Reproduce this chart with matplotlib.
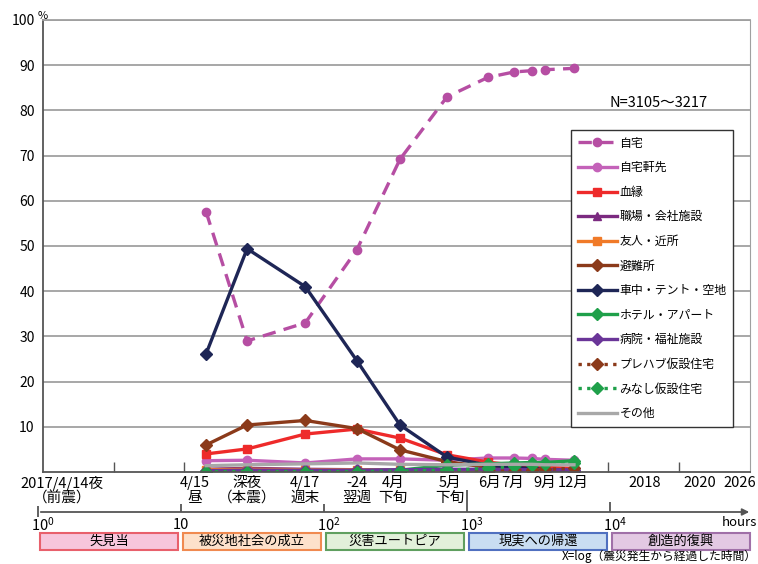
import numpy as np
import matplotlib.pyplot as plt
from matplotlib.patches import Rectangle

plt.rcParams['font.family'] = ['Noto Sans CJK JP', 'DejaVu Sans']

# hours since the foreshock for each survey point
hours = [15, 29, 74, 170, 340, 725, 1400, 2130, 2850, 3500, 5600]

jitaku = [57.5, 29, 33, 49.2, 69.2, 83, 87.3, 88.5, 88.8, 89.0, 89.3]
nokisaki = [2.5, 2.6, 2.0, 2.9, 2.9, 2.6, 3.1, 3.1, 3.0, 2.8, 2.6]
ketsuen = [4.0, 5.1, 8.4, 9.5, 7.5, 3.8, 2.2, 1.5, 1.2, 1.0, 0.8]
shokuba = [0.6, 0.8, 0.6, 0.5, 0.4, 0.3, 0.3, 0.2, 0.2, 0.2, 0.2]
yujin = [0.5, 0.6, 0.5, 0.5, 0.4, 0.3, 0.2, 0.2, 0.2, 0.1, 0.1]
hinanjo = [6.0, 10.4, 11.4, 9.6, 4.9, 2.3, 1.0, 0.5, 0.5, 0.3, 0.3]
shachu = [26.2, 49.4, 41.0, 24.6, 10.4, 3.3, 1.5, 1.0, 0.8, 0.5, 0.3]
hotel = [0.2, 0.2, 0.2, 0.3, 0.4, 1.5, 1.8, 2.0, 2.1, 2.1, 2.5]
byoin = [0.3, 0.4, 0.4, 0.4, 0.5, 0.6, 0.6, 0.5, 0.5, 0.5, 0.5]
prefab = [0.0, 0.0, 0.0, 0.0, 0.0, 0.0, 0.1, 0.3, 0.5, 0.6, 0.8]
minashi = [0.1, 0.1, 0.1, 0.1, 0.2, 0.4, 0.8, 1.3, 1.6, 1.8, 2.0]
sonota = [1.4, 1.6, 1.8, 2.0, 1.7, 1.6, 1.7, 1.7, 1.7, 1.6, 1.6]

series = [
    ('自宅', jitaku, '#b64ea3', '--', 'o'),
    ('自宅軒先', nokisaki, '#c462b9', '-', 'o'),
    ('血縁', ketsuen, '#ee2a2a', '-', 's'),
    ('職場・会社施設', shokuba, '#7b2a80', '-', '^'),
    ('友人・近所', yujin, '#f07a28', '-', 's'),
    ('避難所', hinanjo, '#8b3a1a', '-', 'D'),
    ('車中・テント・空地', shachu, '#1e2656', '-', 'D'),
    ('ホテル・アパート', hotel, '#1fa04a', '-', 'D'),
    ('病院・福祉施設', byoin, '#6a3598', '-', 'D'),
    ('プレハブ仮設住宅', prefab, '#8b3a1a', ':', 'D'),
    ('みなし仮設住宅', minashi, '#1fa04a', ':', 'D'),
    ('その他', sonota, '#a8a8a8', '-', None),
]

# upper tick labels (time points) and their positions in hours
time_labels = ['2017/4/14夜\n（前震）', '4/15\n昼', '深夜\n（本震）', '4/17\n週末', '-24\n翌週',
               '4月\n下旬', '5月\n下旬', '6月', '7月', '9月', '12月', '2018', '2020', '2026']
time_pos = [1.47, 12.5, 29, 74, 170, 304, 760, 1445, 2100, 3500, 5500, 17600, 42600, 81000]

stages = ['失見当', '被災地社会の成立', '災害ユートピア', '現実への帰還', '創造的復興']
stage_face = ['#f7c6dc', '#fde1cb', '#e2f0da', '#c9ddf2', '#e3c9e3']
stage_edge = ['#e8606c', '#f08a50', '#5f9f5f', '#5070c0', '#a070a8']

W, H = 758, 564
fig = plt.figure(figsize=(W / 100, H / 100), dpi=100)

def px2h(px):
    return 10 ** ((px - 38) / 143.0)

ax = fig.add_axes([43 / W, 92 / H, 707 / W, 452 / H])
for name, vals, col, ls, mk in series:
    line, = ax.plot(hours, vals, color=col, lw=2.4, marker=mk, ms=6,
                    markeredgecolor=col, label=name)
    if ls == '--':
        line.set_dashes((4, 2.5))
    elif ls == ':':
        line.set_dashes((1, 1.6))

ax.set_xscale('log')
ax.set_xlim(px2h(43), px2h(750))
ax.set_ylim(0, 100)
ax.set_yticks(range(10, 101, 10))
ax.tick_params(axis='y', length=0, labelsize=10, pad=6)
for y in range(10, 101, 10):
    ax.axhline(y, color='#a0a0a0', lw=1.3, zorder=0)

ax.set_xticks(time_pos)
ax.set_xticklabels(time_labels, fontsize=10.5, linespacing=1.05)
ax.set_xticks([px2h(p) for p in [114, 184, 608, 679]], minor=True)
ax.tick_params(axis='x', which='major', length=0, pad=3)
ax.tick_params(axis='x', which='minor', length=7, direction='in', color='#555555', width=1)
ax.xaxis.set_minor_formatter(plt.NullFormatter())

for s in ['left', 'bottom']:
    ax.spines[s].set_color('#555555')
    ax.spines[s].set_linewidth(1.3)
ax.spines['top'].set_color('#a0a0a0')
ax.spines['right'].set_color('#a0a0a0')
ax.spines['top'].set_linewidth(1.3)

fig.text(38 / W, 1 - 16 / H, '%', fontsize=8, ha='left', va='center')
fig.text(659 / W, 1 - 103 / H, 'N=3105～3217', fontsize=10.5, ha='center', va='center')

leg = ax.legend(loc='upper left', bbox_to_anchor=(571 / W, 1 - 130 / H), bbox_transform=fig.transFigure,
                borderaxespad=0, fancybox=False, edgecolor='#333333', framealpha=1,
                fontsize=8.6, handlelength=3.3, labelspacing=0.97, handletextpad=0.2,
                borderpad=0.55, numpoints=1)
leg.get_frame().set_linewidth(1.0)

# lower "hours" axis with developmental stages
ax2 = fig.add_axes([0, 0, 1, 1], facecolor='none')
ax2.set_xscale('log')
ax2.set_xlim(px2h(0), px2h(W))
ax2.set_ylim(H, 0)
ax2.axis('off')
ax2.annotate('', xy=(px2h(752), 512), xytext=(px2h(38), 512),
             arrowprops=dict(arrowstyle='-|>', color='#555555', lw=1.3, mutation_scale=10))
ax2.vlines(1, 506, 517, color='#555555', lw=1.3)
ax2.vlines([10, 100, 1000, 10000], [504, 504, 490, 502], 512, color='#555555', lw=1.3)
dec_labels = ['$\\mathregular{10^0}$', '10', '$\\mathregular{10^2}$', '$\\mathregular{10^3}$', '$\\mathregular{10^4}$']
for i, lab in enumerate(dec_labels):
    ax2.text(10 ** i * (1.08 if i != 1 else 1.0), 525, lab, fontsize=10.5, ha='center', va='center')
ax2.text(px2h(757), 523, 'hours', fontsize=9.5, ha='right', va='center')
for i, name in enumerate(stages):
    x0, x1 = 10 ** (i + 0.014), 10 ** (i + 0.979)
    ax2.add_patch(Rectangle((x0, 533), x1 - x0, 17, facecolor=stage_face[i], edgecolor=stage_edge[i], lw=1.5))
    ax2.text(np.sqrt(x0 * x1), 541.5, name, fontsize=9.5, ha='center', va='center')
ax2.text(px2h(757), 563, 'X=log（震災発生から経過した時間）', fontsize=8.5, ha='right', va='bottom')

fig.savefig('out.png', dpi=100)
